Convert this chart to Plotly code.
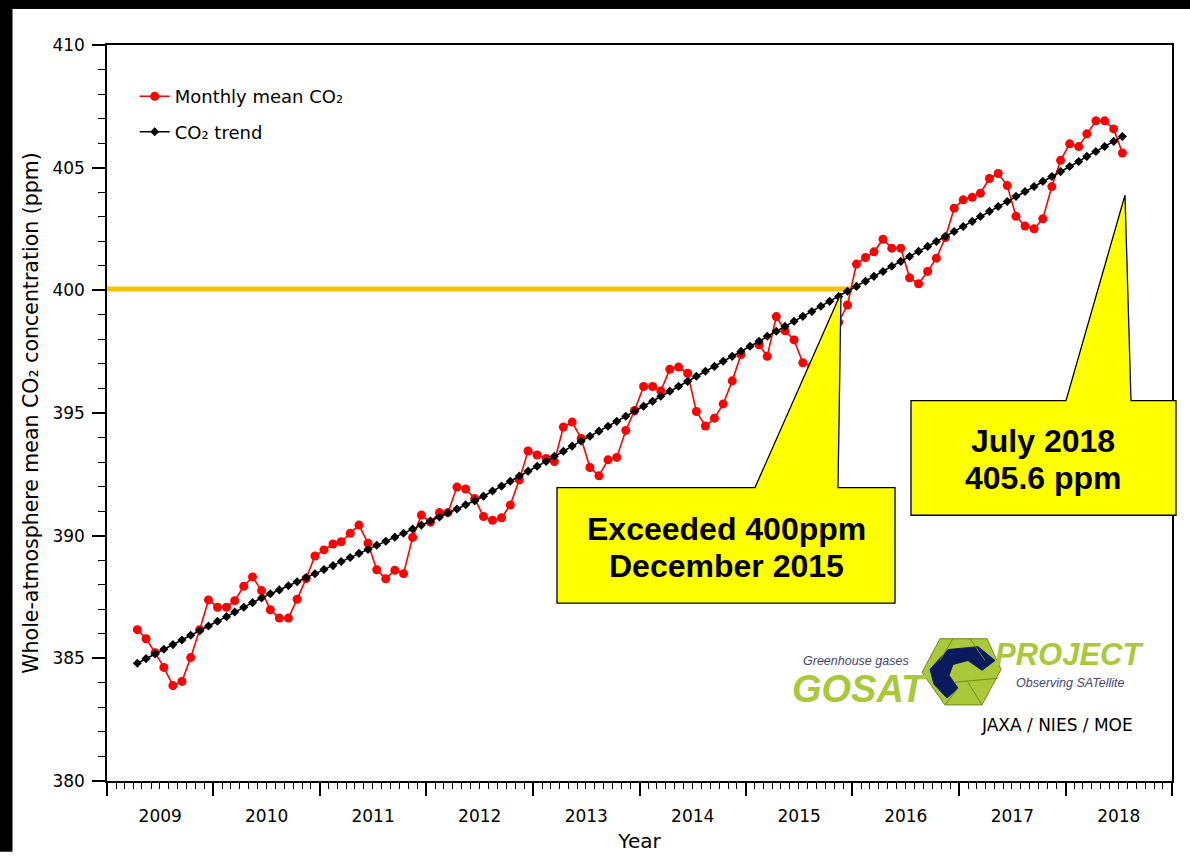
import pandas as pd
import plotly.graph_objects as go

# ---------------- data ----------------
months = [d.strftime("%Y-%m") for d in pd.date_range("2009-04-01", "2018-07-01", freq="MS")]

co2_monthly = [
    386.17, 385.80, 385.23, 384.63, 383.89, 384.06, 385.03, 386.17, 387.38,           # 2009 Apr-Dec
    387.08, 387.08, 387.35, 387.94, 388.32, 387.76, 386.98, 386.64, 386.64, 387.41, 388.25, 389.17,  # 2010
    389.42, 389.66, 389.75, 390.10, 390.43, 389.69, 388.61, 388.24, 388.59, 388.45, 389.93, 390.84,  # 2011
    390.55, 390.94, 390.94, 391.98, 391.90, 391.51, 390.78, 390.63, 390.73, 391.25, 392.28, 393.45,  # 2012
    393.29, 393.15, 393.02, 394.43, 394.63, 393.96, 392.78, 392.44, 393.09, 393.19, 394.29, 395.10,  # 2013
    396.08, 396.08, 395.90, 396.78, 396.87, 396.62, 395.06, 394.47, 394.79, 395.37, 396.31, 397.38,  # 2014
    None,   397.78, 397.31, 398.93, 398.35, 397.98, 397.05, 396.90, 397.30, 398.00, 398.70, 399.40,  # 2015
    401.07, 401.34, 401.57, 402.08, 401.72, 401.72, 400.51, 400.27, 400.77, 401.31, 402.15, 403.35,  # 2016
    403.69, 403.79, 403.96, 404.56, 404.76, 404.27, 403.02, 402.62, 402.51, 402.92, 404.23, 405.30,  # 2017
    405.97, 405.86, 406.38, 406.91, 406.91, 406.58, 405.60,                                          # 2018 Jan-Jul
]

co2_trend = [
    384.80, 384.99, 385.18, 385.37, 385.56, 385.75, 385.94, 386.13, 386.32,
    386.51, 386.70, 386.89, 387.08, 387.27, 387.46, 387.63, 387.79, 387.96, 388.12, 388.29, 388.45,
    388.62, 388.78, 388.95, 389.11, 389.28, 389.44, 389.61, 389.77, 389.94, 390.10, 390.27, 390.43,
    390.60, 390.76, 390.93, 391.09, 391.26, 391.42, 391.61, 391.82, 392.02, 392.22, 392.43, 392.63,
    392.83, 393.03, 393.24, 393.44, 393.65, 393.85, 394.05, 394.26, 394.46, 394.66, 394.87, 395.07,
    395.28, 395.48, 395.68, 395.89, 396.09, 396.29, 396.50, 396.70, 396.90, 397.11, 397.31, 397.51,
    397.72, 397.92, 398.13, 398.33, 398.53, 398.74, 398.94, 399.14, 399.35, 399.55, 399.75, 399.96,
    400.16, 400.37, 400.57, 400.77, 400.98, 401.18, 401.38, 401.59, 401.79, 401.99, 402.20, 402.40,
    402.60, 402.81, 403.01, 403.22, 403.42, 403.62, 403.83, 404.03, 404.23, 404.44, 404.64, 404.84,
    405.05, 405.25, 405.46, 405.66, 405.86, 406.07, 406.27,
]

threshold_ppm = 400.05
threshold_end = "2016-01-01"
callout_1 = ["Exceeded 400ppm", "December 2015"]
callout_2 = ["July 2018", "405.6 ppm"]

x_dates = [m + "-15" for m in months]

# ---------------- layout geometry (reference pixels) ----------------
W, H = 1190, 861
L, R, T, B = 107, 1172, 45, 790


def px(x):
    return (x - L) / (R - L)


def py(y):
    return (B - y) / (B - T)


def path(points):
    return "M " + " L ".join(f"{px(a):.5f},{py(b):.5f}" for a, b in points) + " Z"


fig = go.Figure()
fig.add_trace(go.Scatter(
    x=x_dates, y=co2_monthly, mode="lines+markers", name="Monthly mean CO₂",
    line=dict(color="#FF0000", width=1.6), marker=dict(color="#FF0000", size=9),
    connectgaps=False, legendgroup="a",
))
fig.add_trace(go.Scatter(
    x=x_dates, y=co2_trend, mode="lines+markers", name="CO₂ trend",
    line=dict(color="black", width=1.6), marker=dict(color="black", size=7, symbol="diamond"),
    legendgroup="b",
))

shapes = []
# black frame bands of the original screenshot (left and top)
shapes.append(dict(type="path", xref="paper", yref="paper", layer="above",
                   path=path([(0, 0), (12, 0), (12, H), (0, H)]),
                   fillcolor="black", line=dict(color="black", width=1)))
shapes.append(dict(type="path", xref="paper", yref="paper", layer="above",
                   path=path([(0, 0), (W, 0), (W, 8), (0, 8)]),
                   fillcolor="black", line=dict(color="black", width=1)))
# 400 ppm threshold line
shapes.append(dict(type="line", xref="x", yref="y", x0="2009-01-01", x1=threshold_end,
                   y0=threshold_ppm, y1=threshold_ppm, line=dict(color="#FFC000", width=5), layer="below"))
# callout 1
shapes.append(dict(type="path", xref="paper", yref="paper", layer="above",
                   path=path([(557, 493), (755, 493), (841, 296), (838, 493), (895, 493), (895, 610), (557, 610)]),
                   fillcolor="#FFFF00", line=dict(color="black", width=1.3)))
# callout 2
shapes.append(dict(type="path", xref="paper", yref="paper", layer="above",
                   path=path([(911, 405), (1066, 405), (1125, 197), (1131, 405), (1176, 405), (1176, 521), (911, 521)]),
                   fillcolor="#FFFF00", line=dict(color="black", width=1.3)))
# logo cube
shapes.append(dict(type="path", xref="paper", yref="paper", layer="above",
                   path=path([(940, 646), (987, 646), (1001, 677), (982, 713), (945, 713), (922, 680)]),
                   fillcolor="#A9C83A", line=dict(color="#6F8A1C", width=1)))
shapes.append(dict(type="path", xref="paper", yref="paper", layer="above",
                   path=path([(930, 677), (948, 657), (978, 654), (995, 668), (982, 678), (968, 668),
                              (953, 672), (949, 683), (958, 696), (947, 706), (934, 692)]),
                   fillcolor="#0B1A5C", line=dict(color="#0B1A5C", width=1)))
for (a, b), (c, d) in [((953, 646), (940, 668)), ((970, 646), (985, 668)), ((945, 713), (958, 696)),
                       ((982, 713), (968, 690)), ((955, 690), (998, 686))]:
    shapes.append(dict(type="line", xref="paper", yref="paper", x0=px(a), y0=py(b), x1=px(c), y1=py(d),
                       line=dict(color="#6F8A1C", width=1), layer="above"))

BOLD = "Liberation Sans, Arial, sans-serif"
ann = []


def add_text(text, x, y, size, color="black", family=BOLD):
    ann.append(dict(text=text, x=px(x), y=py(y), xref="paper", yref="paper", showarrow=False,
                    xanchor="center", yanchor="middle", font=dict(family=family, size=size, color=color)))


for text, y in zip(callout_1, [535, 572]):
    add_text(f"<b>{text}</b>", 726, y, 32)
for text, y in zip(callout_2, [446, 483]):
    add_text(f"<b>{text}</b>", 1043, y, 32)

# logo texts
add_text("<i>Greenhouse gases</i>", 856, 669, 12.5, "#45456F")
add_text("<b><i>GOSAT</i></b>", 859, 697, 38, "#A9C83A")
add_text("<b><i>PROJECT</i></b>", 1069, 662, 31, "#A9C83A")
add_text("<i>Observing SATellite</i>", 1070, 691, 12.5, "#45456F")
add_text("JAXA / NIES / MOE", 1057, 733, 17, "black", "DejaVu Sans")

fig.update_layout(
    width=W, height=H,
    margin=dict(l=L, r=W - R, t=T, b=H - B, pad=0),
    paper_bgcolor="white", plot_bgcolor="white",
    font=dict(family="DejaVu Sans", size=17, color="black"),
    shapes=shapes, annotations=ann,
    showlegend=True,
    legend=dict(x=0.026, y=0.955, xanchor="left", yanchor="top", bgcolor="rgba(0,0,0,0)",
                font=dict(size=18), traceorder="grouped", tracegroupgap=9, itemwidth=30),
    xaxis=dict(
        type="date", range=["2009-01-01", "2019-01-01"], tick0="2009-01-01", dtick="M12",
        tickformat="%Y", ticklabelmode="period", ticks="outside", ticklen=13, tickwidth=1.5,
        tickcolor="black", showline=True, linecolor="black", linewidth=1.5, mirror=True,
        showgrid=False, zeroline=False, ticklabelstandoff=6,
        minor=dict(dtick="M1", ticks="outside", ticklen=6, tickwidth=1.2, tickcolor="black", showgrid=False),
        title=dict(text="Year", font=dict(size=20), standoff=9),
    ),
    yaxis=dict(
        range=[380, 410], dtick=5, ticks="outside", ticklen=13, tickwidth=1.5, tickcolor="black",
        showline=True, linecolor="black", linewidth=1.5, mirror=True, showgrid=False, zeroline=False,
        ticklabelstandoff=4,
        minor=dict(dtick=1, ticks="outside", ticklen=7, tickwidth=1.2, tickcolor="black", showgrid=False),
        title=dict(text="Whole-atmosphere mean CO₂ concentration (ppm)", font=dict(size=20.5), standoff=8),
    ),
)

# remove the browser's default page margin so the figure fills the window exactly
fig.write_html("out.html", config={"displayModeBar": False},
               post_script="document.body.style.margin='0px';")
